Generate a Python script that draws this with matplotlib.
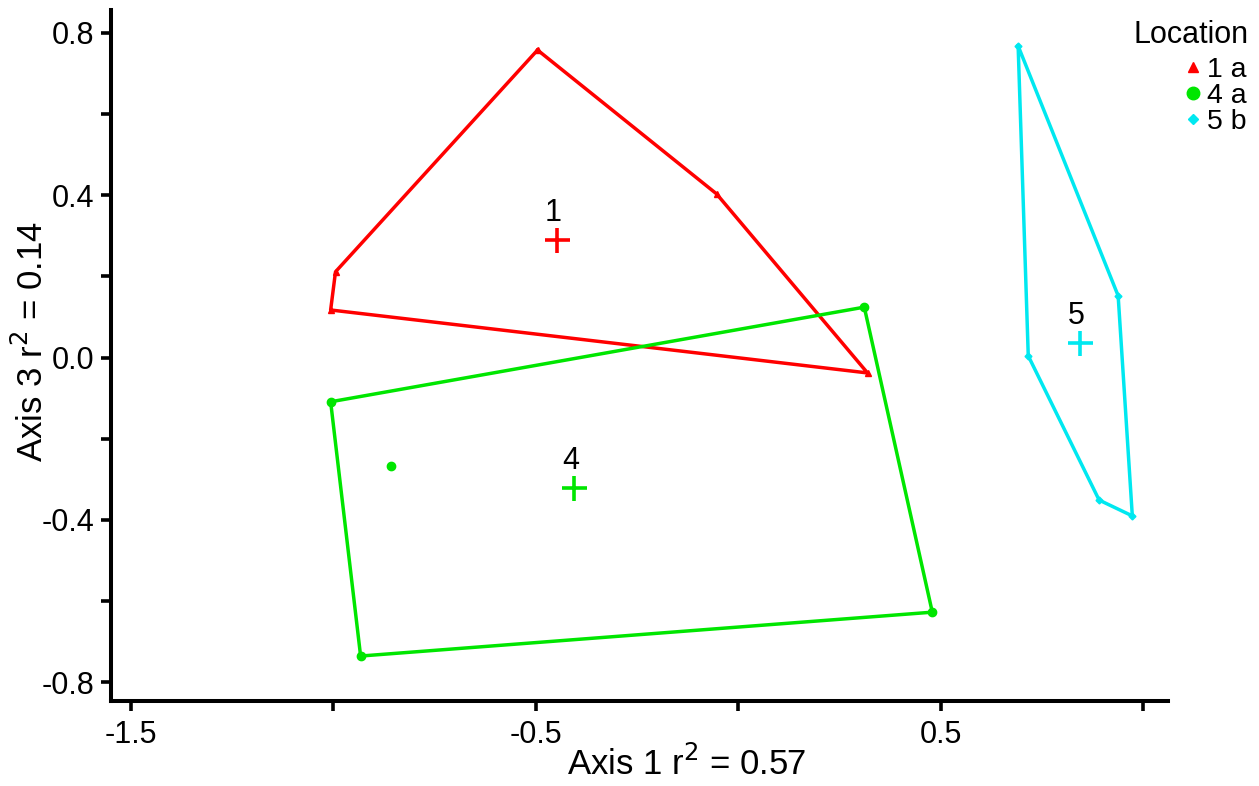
import numpy as np
import matplotlib
matplotlib.use("Agg")
import matplotlib.pyplot as plt

plt.rcParams["font.family"] = ["Liberation Sans", "DejaVu Sans"]

# hull vertices for each location (Axis 1, Axis 3)
loc1_x = [-0.496, -0.054, 0.319, -1.007, -0.995]
loc1_y = [0.757, 0.403, -0.038, 0.117, 0.211]
loc4_x = [0.311, 0.479, -0.933, -1.007]
loc4_y = [0.124, -0.627, -0.735, -0.109]
loc4_inner_x = [-0.857]
loc4_inner_y = [-0.267]
loc5_x = [0.691, 0.938, 0.973, 0.891, 0.716]
loc5_y = [0.767, 0.152, -0.390, -0.351, 0.004]

# group centroids
cent_x = [-0.447, -0.405, 0.844]
cent_y = [0.290, -0.321, 0.035]
cent_lab = ["1", "4", "5"]

legend_lab = ["1 a", "4 a", "5 b"]
colors = ["#ff0000", "#00e600", "#00e8f0"]
markers = ["^", "o", "D"]
msizes = [5, 6, 3.5]

fig = plt.figure(figsize=(12.59, 7.86), dpi=100)
ax = fig.add_axes([0.088, 0.1085, 0.84, 0.879])

hulls = [(loc1_x, loc1_y), (loc4_x, loc4_y), (loc5_x, loc5_y)]
handles = []
for (hx, hy), c, m, ms, lab in zip(hulls, colors, markers, msizes, legend_lab):
    ax.plot(hx + hx[:1], hy + hy[:1], color=c, lw=2.5, zorder=2)
    h, = ax.plot(hx, hy, ls="none", marker=m, ms=ms, color=c, label=lab, zorder=3)
    handles.append(h)

ax.plot(loc4_inner_x, loc4_inner_y, ls="none", marker="o", ms=6, color=colors[1])

for x, y, c, t in zip(cent_x, cent_y, colors, cent_lab):
    ax.plot(x, y, marker="+", ms=18, mew=2.6, color=c, zorder=4)
    ax.text(x - 0.01, y + 0.03, t, fontsize=22, color="black",
            ha="center", va="bottom")

ax.set_xlim(-1.55, 1.062)
ax.set_ylim(-0.845, 0.856)
ax.set_xticks([-1.5, -0.5, 0.5])
ax.set_xticklabels(["-1.5", "-0.5", "0.5"])
ax.set_xticks([-1.0, 0.0, 1.0], minor=True)
ax.set_yticks([-0.8, -0.4, 0.0, 0.4, 0.8])
ax.set_yticklabels(["-0.8", "-0.4", "0.0", "0.4", "0.8"])
ax.set_yticks([-0.6, -0.2, 0.2, 0.6], minor=True)

for s in ["top", "right"]:
    ax.spines[s].set_visible(False)
for s in ["left", "bottom"]:
    ax.spines[s].set_linewidth(2.9)

ax.tick_params(which="both", direction="out", length=7, width=2.6,
               labelsize=22, pad=5)
ax.tick_params(axis="x", which="both", pad=7)

ax.set_xlabel("Axis 1 r$^2$ = 0.57", fontsize=25, labelpad=-3, x=0.545)
ax.set_ylabel("Axis 3 r$^2$ = 0.14", fontsize=25, labelpad=-6, y=0.52)

# legend: title on its own, entries right-aligned beneath
fig.text(0.992, 1 - 35 / 786, "Location", fontsize=22, ha="right", va="center")
fig.legend(handles=handles, loc="upper right",
           bbox_to_anchor=(0.99, 1 - 57 / 786),
           frameon=False, fontsize=20.5, markerscale=1.5,
           handlelength=0.4, handletextpad=0.3, labelspacing=0.0,
           borderpad=0, borderaxespad=0)

fig.savefig("out.png", dpi=100)
